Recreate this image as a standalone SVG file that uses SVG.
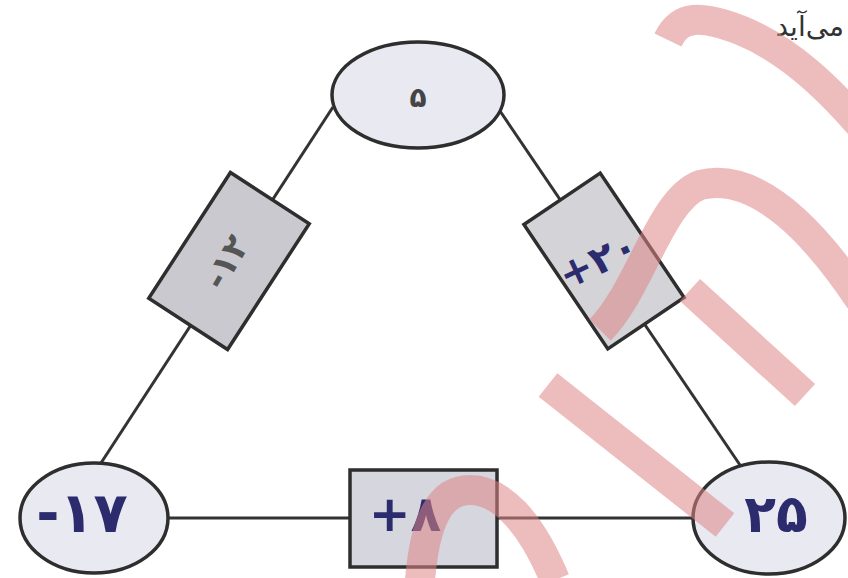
<svg xmlns="http://www.w3.org/2000/svg" width="848" height="578" viewBox="0 0 848 578">
<style>
.edge{stroke:#333;stroke-width:3;fill:none}
.node{fill:#e9e9f1;stroke:#2e2e2e;stroke-width:3.5}
.box{stroke:#2e2e2e;stroke-width:3.5}
.num{font-family:"DejaVu Sans",sans-serif;font-weight:bold;text-anchor:middle;dominant-baseline:central;fill:#2b2b6e}
.wm{fill:none;stroke:#df8585;stroke-opacity:0.55;stroke-width:30}
</style>
<rect width="848" height="578" fill="#ffffff"/>
<g id="connectors">
<line class="edge" x1="333" y1="107" x2="101" y2="463"/>
<line class="edge" x1="500" y1="111" x2="740" y2="465"/>
<line class="edge" x1="168" y1="518" x2="693" y2="518"/>
</g>
<g id="node-top">
<ellipse class="node" cx="418" cy="95" rx="86" ry="53"/>
<text class="num" x="418" y="97" font-size="28" style="fill:#444">۵</text>
</g>
<g id="node-left">
<ellipse class="node" cx="94" cy="518" rx="74" ry="55"/>
<text class="num" x="82" y="512" font-size="56">-۱۷</text>
</g>
<g id="node-right">
<ellipse class="node" cx="769" cy="518" rx="76" ry="56"/>
<text class="num" x="776" y="514" font-size="52">۲۵</text>
</g>
<g id="edge-left-label" transform="rotate(33 229 261)">
<rect class="box" x="182" y="186" width="94" height="150" fill="#c9c9cf"/>
</g>
<g id="edge-left-text">
<text class="num" x="226" y="262" font-size="34" style="fill:#555" transform="rotate(-60 226 262)">-۱۲</text>
</g>
<g id="edge-right-label" transform="rotate(-34 604 261)">
<rect class="box" x="558" y="186" width="92" height="150" fill="#d3d3d8"/>
</g>
<g id="edge-right-text">
<text class="num" x="598" y="260" font-size="40" transform="rotate(-25 598 260)">+۲۰</text>
</g>
<g id="edge-bottom-label">
<rect class="box" x="350" y="470" width="147" height="97" fill="#d5d6de"/>
<text class="num" x="405" y="514" font-size="50">+۸</text>
</g>
<g id="corner-text">
<text x="844" y="36" font-family="'DejaVu Sans',sans-serif" font-size="28" fill="#333" text-anchor="end">می‌آید</text>
</g>
<g id="watermark">
<path class="wm" d="M 668 40 C 680 15, 700 15, 740 30 C 790 50, 830 90, 860 125"/>
<path class="wm" d="M 600 330 C 640 290, 660 200, 700 185 C 760 170, 820 240, 860 300"/>
<path class="wm" d="M 690 290 L 805 395"/>
<path class="wm" d="M 548 385 L 725 525"/>
<path class="wm" d="M 420 580 C 425 520, 440 490, 470 490 C 500 490, 530 520, 555 580"/>
</g>
</svg>
